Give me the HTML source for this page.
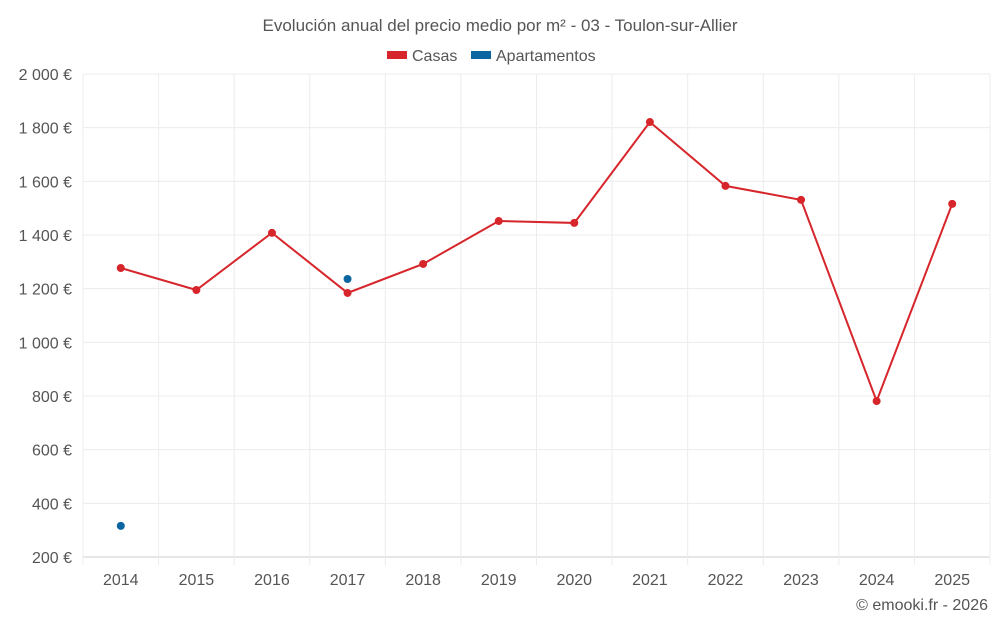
<!DOCTYPE html>
<html><head><meta charset="utf-8"><style>
body{margin:0;background:#fff;font-family:"Liberation Sans",sans-serif}
svg text{font-family:"Liberation Sans",sans-serif}
</style></head><body>
<svg id="c" width="1000" height="625">
<text x="500" y="31" text-anchor="middle" font-size="17" fill="#555">Evolución anual del precio medio por m² - 03 - Toulon-sur-Allier</text>
<g>
<g><rect x="387" y="51" width="20" height="8" fill="#d7262b"/><text x="412" y="61" font-size="16" fill="#555">Casas</text></g>
<g><rect x="471" y="51" width="20" height="8" fill="#0a65a0"/><text x="496" y="61" font-size="16" fill="#555">Apartamentos</text></g>
</g>
<g id="grid"></g><g id="marks"></g>
<text x="988" y="610" text-anchor="end" font-size="16" fill="#555">© emooki.fr - 2026</text>
</svg>
<script>
const years=[2014,2015,2016,2017,2018,2019,2020,2021,2022,2023,2024,2025];
const casas=[1277,1195,1408,1184,1292,1452,1445,1821,1583,1531,781,1516];
const apartamentos=[316,null,null,1236,null,null,null,null,null,null,null,null];
const yTicks=[200,400,600,800,1000,1200,1400,1600,1800,2000];
const L=83,R=990,T=74,B=557,ymin=200,ymax=2000;
const NS="http://www.w3.org/2000/svg";
const xs=i=>L+(R-L)/years.length*(i+0.5);
const ys=v=>B-(v-ymin)/(ymax-ymin)*(B-T);
function mk(p,t,a){const e=document.createElementNS(NS,t);for(const k in a)e.setAttribute(k,a[k]);p.appendChild(e);return e;}
const g=document.getElementById('grid'),m=document.getElementById('marks');
const fmt=v=>String(v).replace(/\B(?=(\d{3})+(?!\d))/g,' ')+' €';
yTicks.forEach(v=>{
 const l=mk(g,'line',{x1:L,x2:R,y1:ys(v),y2:ys(v),stroke:v===ymin?'#ccc':'#ececec'});
 
 
 const t=mk(g,'text',{x:72,y:ys(v)+6,'text-anchor':'end','font-size':16,fill:'#555'});t.textContent=fmt(v);
 
 
});
for(let i=0;i<=years.length;i++){
 const x=L+(R-L)/years.length*i;
 const l=mk(g,'line',{x1:x,x2:x,y1:T,y2:B+8,stroke:'#ececec'});
 
 
}
years.forEach((y,i)=>{
 const t=mk(g,'text',{x:xs(i),y:585,'text-anchor':'middle','font-size':16,fill:'#555'});t.textContent=y;
 
 
});
let d='';casas.forEach((v,i)=>{if(v!=null)d+=(d?'L':'M')+xs(i)+' '+ys(v);});
const p=mk(m,'path',{d:d,fill:'none',stroke:'#d7262b','stroke-width':2});


casas.forEach((v,i)=>{if(v==null)return;
 const c=mk(m,'circle',{cx:xs(i),cy:ys(v),r:4,fill:'#d7262b'});
 
 
});
apartamentos.forEach((v,i)=>{if(v==null)return;
 const c=mk(m,'circle',{cx:xs(i),cy:ys(v),r:4,fill:'#0a65a0'});
 
 
});
</script>
</body></html>
